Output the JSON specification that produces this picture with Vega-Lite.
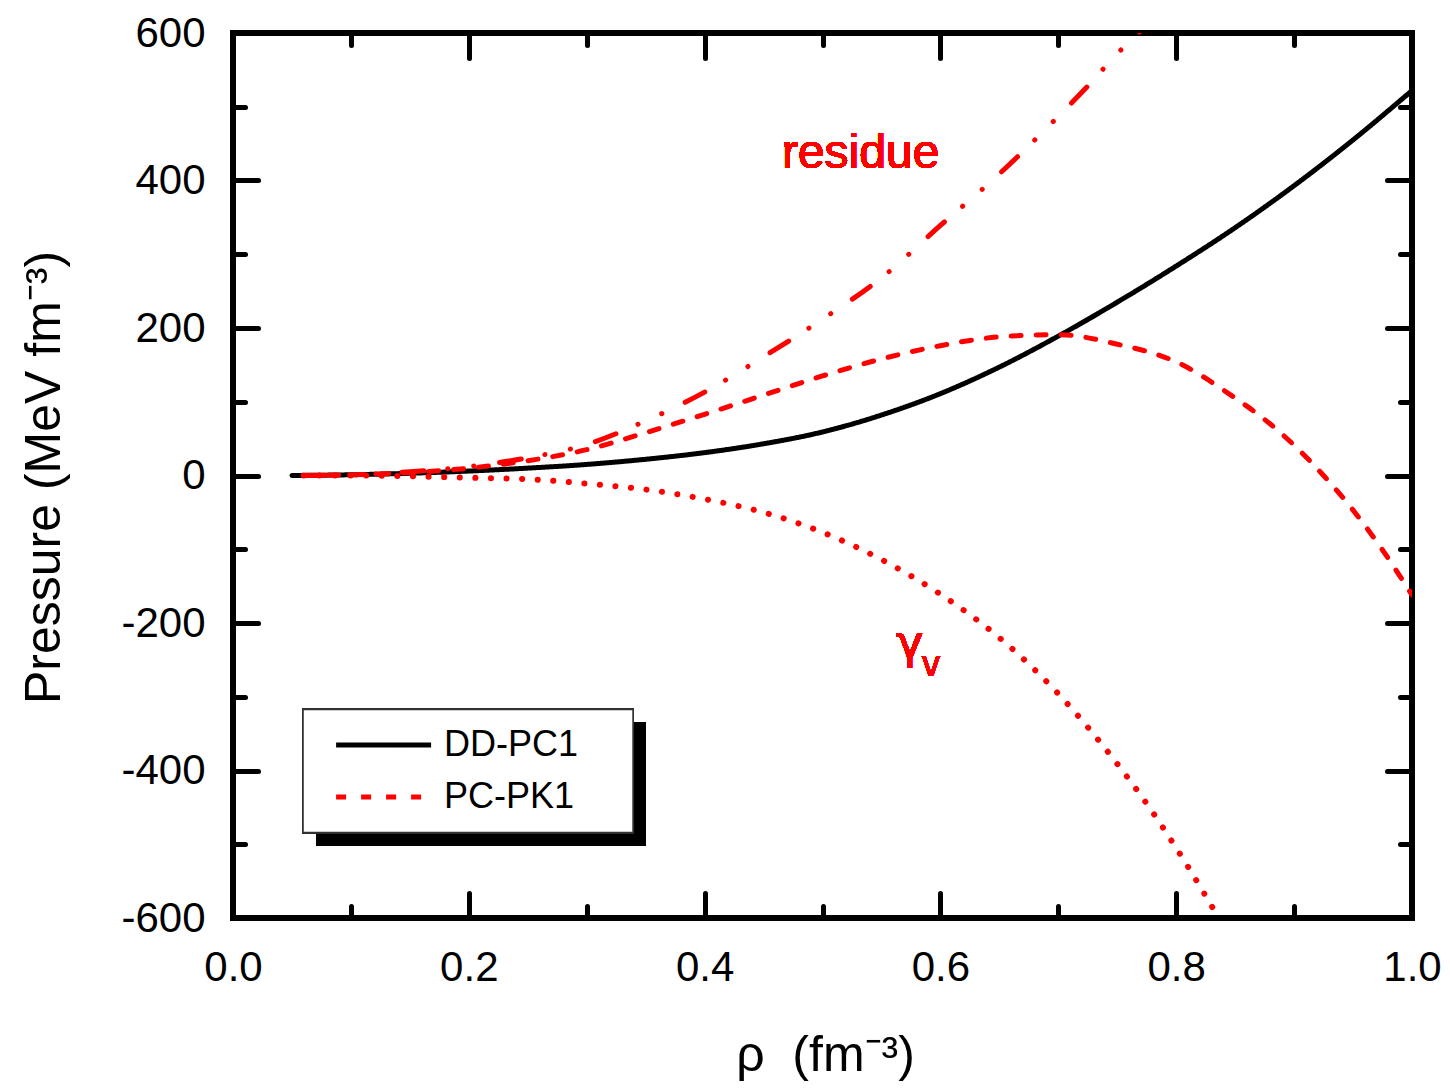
{
  "$schema": "https://vega.github.io/schema/vega-lite/v6.json",
  "width": 1179,
  "height": 885,
  "autosize": {"type": "none"},
  "padding": {"left": 233, "top": 33, "right": 38, "bottom": 170},
  "background": "white",
  "config": {
    "view": {"stroke": "black", "strokeWidth": 6},
    "font": "Liberation Sans",
    "axis": {
      "grid": false,
      "domain": false,
      "tickColor": "black",
      "tickWidth": 5,
      "tickCap": "round",
      "labelFont": "Liberation Sans",
      "labelFontSize": 42,
      "labelColor": "black",
      "labelFlush": false,
      "labelOverlap": false,
      "titleFont": "Liberation Sans",
      "titleFontSize": 50,
      "titleFontWeight": "normal",
      "titleColor": "black"
    },
    "legend": {
      "title": null, "orient": "none", "legendX": 70, "legendY": 677,
      "fillColor": "transparent", "strokeColor": "transparent", "padding": 17,
      "labelFont": "Liberation Sans", "labelFontSize": 36, "labelColor": "black",
      "labelLimit": 400,
      "symbolType": "M-0.2,0H9.8", "symbolSize": 361, "symbolStrokeWidth": 5,
      "labelOffset": 88, "rowPadding": 16, "zindex": 1
    }
  },
  "data": {
    "values": [
      {"series": "DD-PC1", "rho": 0.05, "P": 0},
      {"series": "DD-PC1", "rho": 0.1, "P": 1},
      {"series": "DD-PC1", "rho": 0.15, "P": 3},
      {"series": "DD-PC1", "rho": 0.2, "P": 6},
      {"series": "DD-PC1", "rho": 0.25, "P": 10},
      {"series": "DD-PC1", "rho": 0.3, "P": 15},
      {"series": "DD-PC1", "rho": 0.35, "P": 22},
      {"series": "DD-PC1", "rho": 0.4, "P": 31},
      {"series": "DD-PC1", "rho": 0.45, "P": 43},
      {"series": "DD-PC1", "rho": 0.5, "P": 59},
      {"series": "DD-PC1", "rho": 0.55, "P": 82},
      {"series": "DD-PC1", "rho": 0.6, "P": 111},
      {"series": "DD-PC1", "rho": 0.65, "P": 147},
      {"series": "DD-PC1", "rho": 0.7, "P": 189},
      {"series": "DD-PC1", "rho": 0.75, "P": 235},
      {"series": "DD-PC1", "rho": 0.8, "P": 284},
      {"series": "DD-PC1", "rho": 0.85, "P": 336},
      {"series": "DD-PC1", "rho": 0.9, "P": 393},
      {"series": "DD-PC1", "rho": 0.95, "P": 455},
      {"series": "DD-PC1", "rho": 1.0, "P": 522},
      {"series": "PC-PK1", "rho": 0.06, "P": 0},
      {"series": "PC-PK1", "rho": 0.1, "P": 1},
      {"series": "PC-PK1", "rho": 0.15, "P": 4},
      {"series": "PC-PK1", "rho": 0.2, "P": 10},
      {"series": "PC-PK1", "rho": 0.25, "P": 20},
      {"series": "PC-PK1", "rho": 0.3, "P": 35},
      {"series": "PC-PK1", "rho": 0.35, "P": 58},
      {"series": "PC-PK1", "rho": 0.4, "P": 83},
      {"series": "PC-PK1", "rho": 0.45, "P": 109},
      {"series": "PC-PK1", "rho": 0.5, "P": 135},
      {"series": "PC-PK1", "rho": 0.55, "P": 158},
      {"series": "PC-PK1", "rho": 0.6, "P": 176},
      {"series": "PC-PK1", "rho": 0.65, "P": 188},
      {"series": "PC-PK1", "rho": 0.7, "P": 191},
      {"series": "PC-PK1", "rho": 0.75, "P": 178},
      {"series": "PC-PK1", "rho": 0.8, "P": 154},
      {"series": "PC-PK1", "rho": 0.85, "P": 105},
      {"series": "PC-PK1", "rho": 0.875, "P": 76},
      {"series": "PC-PK1", "rho": 0.9, "P": 41},
      {"series": "PC-PK1", "rho": 0.925, "P": 0},
      {"series": "PC-PK1", "rho": 0.95, "P": -47},
      {"series": "PC-PK1", "rho": 0.975, "P": -101},
      {"series": "PC-PK1", "rho": 1.0, "P": -162},
      {"series": "residue", "rho": 0.06, "P": 0},
      {"series": "residue", "rho": 0.1, "P": 1},
      {"series": "residue", "rho": 0.15, "P": 5},
      {"series": "residue", "rho": 0.2, "P": 12},
      {"series": "residue", "rho": 0.25, "P": 24},
      {"series": "residue", "rho": 0.3, "P": 42},
      {"series": "residue", "rho": 0.35, "P": 74},
      {"series": "residue", "rho": 0.4, "P": 113},
      {"series": "residue", "rho": 0.45, "P": 161},
      {"series": "residue", "rho": 0.5, "P": 212},
      {"series": "residue", "rho": 0.55, "P": 268},
      {"series": "residue", "rho": 0.6, "P": 339},
      {"series": "residue", "rho": 0.65, "P": 409},
      {"series": "residue", "rho": 0.7, "P": 487},
      {"series": "residue", "rho": 0.725, "P": 528},
      {"series": "residue", "rho": 0.75, "P": 572},
      {"series": "residue", "rho": 0.77, "P": 603},
      {"series": "gamma_v", "rho": 0.06, "P": 0},
      {"series": "gamma_v", "rho": 0.1, "P": 0},
      {"series": "gamma_v", "rho": 0.15, "P": -1},
      {"series": "gamma_v", "rho": 0.2, "P": -3},
      {"series": "gamma_v", "rho": 0.25, "P": -5},
      {"series": "gamma_v", "rho": 0.3, "P": -11},
      {"series": "gamma_v", "rho": 0.35, "P": -19},
      {"series": "gamma_v", "rho": 0.4, "P": -32},
      {"series": "gamma_v", "rho": 0.45, "P": -50},
      {"series": "gamma_v", "rho": 0.5, "P": -77},
      {"series": "gamma_v", "rho": 0.55, "P": -114},
      {"series": "gamma_v", "rho": 0.6, "P": -161},
      {"series": "gamma_v", "rho": 0.65, "P": -220},
      {"series": "gamma_v", "rho": 0.7, "P": -296},
      {"series": "gamma_v", "rho": 0.75, "P": -391},
      {"series": "gamma_v", "rho": 0.775, "P": -445},
      {"series": "gamma_v", "rho": 0.8, "P": -505},
      {"series": "gamma_v", "rho": 0.825, "P": -570},
      {"series": "gamma_v", "rho": 0.836, "P": -600}
    ]
  },
  "layer": [
    {
      "mark": {"type": "rect", "color": "black"},
      "encoding": {
        "x": {"datum": 0.0704, "type": "quantitative", "scale": {"domain": [0, 1], "nice": false, "zero": false}, "axis": null},
        "x2": {"datum": 0.3503},
        "y": {"datum": -334.9, "type": "quantitative", "scale": {"domain": [-600, 600], "nice": false, "zero": false}, "axis": null},
        "y2": {"datum": -501.7}
      }
    },
    {
      "mark": {"type": "rect", "fill": "white", "stroke": "#333333", "strokeWidth": 1.5},
      "encoding": {
        "x": {"datum": 0.0594, "type": "quantitative", "axis": null},
        "x2": {"datum": 0.3393},
        "y": {"datum": -317.3, "type": "quantitative", "axis": null},
        "y2": {"datum": -484.1}
      }
    },
    {
      "transform": [{"filter": "datum.series === 'DD-PC1' || datum.series === 'PC-PK1'"}],
      "mark": {"type": "line", "strokeWidth": 5, "strokeCap": "round", "interpolate": "monotone", "clip": true},
      "encoding": {
        "x": {
          "field": "rho", "type": "quantitative",
          "scale": {"domain": [0, 1], "nice": false, "zero": false},
          "axis": {
            "orient": "bottom",
            "values": [0, 0.2, 0.4, 0.6, 0.8, 1.0],
            "tickSize": -25,
            "labelPadding": 54,
            "labelExpr": "format(datum.value, '.1f')",
            "title": "ρ\u00a0\u00a0(fm⁻³)",
            "titleX": 592,
            "titleY": 137,
            "titleAlign": "center",
            "titleBaseline": "middle"
          }
        },
        "y": {
          "field": "P", "type": "quantitative",
          "scale": {"domain": [-600, 600], "nice": false, "zero": false},
          "axis": {
            "orient": "left",
            "values": [-600, -400, -200, 0, 200, 400, 600],
            "tickSize": -25,
            "labelPadding": 53,
            "labelExpr": "'' + datum.value",
            "title": "Pressure (MeV fm⁻³)",
            "titleX": -189,
            "titleY": 444,
            "titleAlign": "center",
            "titleBaseline": "middle"
          }
        },
        "color": {
          "field": "series", "type": "nominal",
          "scale": {"domain": ["DD-PC1", "PC-PK1"], "range": ["#000000", "#ff0000"]}
        },
        "strokeDash": {
          "field": "series", "type": "nominal",
          "scale": {"domain": ["DD-PC1", "PC-PK1"], "range": [[1, 0], [10, 15]]}
        }
      }
    },
    {
      "transform": [{"filter": "datum.series === 'residue'"}],
      "mark": {"type": "line", "color": "#ff0000", "strokeWidth": 5, "strokeCap": "round", "strokeDash": [22, 24, 0.1, 26, 0.1, 26], "interpolate": "monotone", "clip": true},
      "encoding": {
        "x": {
          "field": "rho", "type": "quantitative",
          "scale": {"domain": [0, 1], "nice": false, "zero": false},
          "axis": {"orient": "bottom", "values": [0.1, 0.3, 0.5, 0.7, 0.9], "tickSize": -12, "labels": false, "title": null}
        },
        "y": {
          "field": "P", "type": "quantitative",
          "scale": {"domain": [-600, 600], "nice": false, "zero": false},
          "axis": {"orient": "left", "values": [-500, -300, -100, 100, 300, 500], "tickSize": -12, "labels": false, "title": null}
        }
      }
    },
    {
      "transform": [{"filter": "datum.series === 'gamma_v'"}],
      "mark": {"type": "line", "color": "#ff0000", "strokeWidth": 6, "strokeCap": "round", "strokeDash": [0.1, 15.5], "interpolate": "monotone", "clip": true},
      "encoding": {
        "x": {
          "field": "rho", "type": "quantitative",
          "scale": {"domain": [0, 1], "nice": false, "zero": false},
          "axis": {"orient": "top", "values": [0, 0.2, 0.4, 0.6, 0.8, 1.0], "tickSize": -25, "labels": false, "title": null}
        },
        "y": {
          "field": "P", "type": "quantitative",
          "scale": {"domain": [-600, 600], "nice": false, "zero": false},
          "axis": {"orient": "right", "values": [-600, -400, -200, 0, 200, 400, 600], "tickSize": -25, "labels": false, "title": null}
        }
      }
    },
    {
      "mark": {"type": "text", "text": "residue", "font": "Liberation Sans", "fontSize": 48, "color": "#ff0000", "align": "left", "baseline": "alphabetic"},
      "encoding": {
        "x": {
          "datum": 0.4656, "type": "quantitative",
          "scale": {"domain": [0, 1], "nice": false, "zero": false},
          "axis": {"orient": "top", "values": [0.1, 0.3, 0.5, 0.7, 0.9], "tickSize": -12, "labels": false, "title": null}
        },
        "y": {
          "datum": 417, "type": "quantitative",
          "scale": {"domain": [-600, 600], "nice": false, "zero": false},
          "axis": {"orient": "right", "values": [-500, -300, -100, 100, 300, 500], "tickSize": -12, "labels": false, "title": null}
        }
      }
    },
    {
      "mark": {"type": "text", "text": "γ", "font": "DejaVu Sans", "fontSize": 46, "color": "#ff0000", "align": "center", "baseline": "alphabetic"},
      "encoding": {
        "x": {"datum": 0.574, "type": "quantitative", "axis": null},
        "y": {"datum": -247, "type": "quantitative", "axis": null}
      }
    },
    {
      "mark": {"type": "text", "text": "v", "font": "Liberation Sans", "fontSize": 36, "color": "#ff0000", "align": "center", "baseline": "alphabetic"},
      "encoding": {
        "x": {"datum": 0.592, "type": "quantitative", "axis": null},
        "y": {"datum": -272.5, "type": "quantitative", "axis": null}
      }
    }
  ],
  "resolve": {"axis": {"x": "independent", "y": "independent"}}
}
